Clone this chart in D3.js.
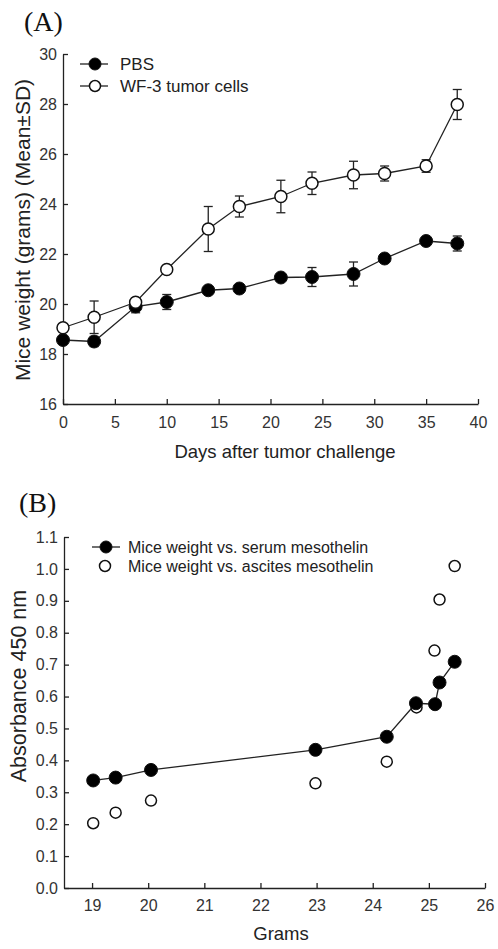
<!DOCTYPE html>
<html><head><meta charset="utf-8">
<script src="https://cdn.jsdelivr.net/npm/d3@7"></script>
<style>
body{margin:0;background:#fff;}
text{font-family:"Liberation Sans",Arial,sans-serif;fill:#222;}
text.panel{font-family:"Liberation Serif","Times New Roman",serif;fill:#111;}
</style></head>
<body><svg id="c" width="498" height="949"></svg>
<script>
// Panel A data
const days = [0,3,7,10,14,17,21,24,28,31,35,38];
const pbsMean = [18.56,18.5,19.9,20.08,20.55,20.62,21.06,21.08,21.2,21.82,22.52,22.42];
const pbsSD   = [0.15,0.2,0.25,0.3,0.1,0.15,0.1,0.38,0.48,0.15,0.1,0.3];
const wfMean  = [19.05,19.47,20.07,21.38,23.0,23.9,24.3,24.83,25.16,25.22,25.52,27.98];
const wfSD    = [0.12,0.65,0.15,0.15,0.9,0.42,0.65,0.45,0.55,0.3,0.25,0.6];
const aXTicks = [0,5,10,15,20,25,30,35,40];
const aYTicks = [16,18,20,22,24,26,28,30];
const aLegend = ["PBS","WF-3 tumor cells"];
// Panel B data
const serumGrams = [19.02,19.42,20.05,22.98,24.25,24.77,25.11,25.19,25.46];
const serumAbs   = [0.337,0.346,0.370,0.433,0.474,0.579,0.576,0.644,0.709];
const ascGrams   = [19.02,19.42,20.05,22.98,24.25,24.78,25.10,25.19,25.46];
const ascAbs     = [0.203,0.236,0.274,0.328,0.396,0.566,0.744,0.904,1.009];
const bXTicks = [19,20,21,22,23,24,25,26];
const bYTicks = [0,0.1,0.2,0.3,0.4,0.5,0.6,0.7,0.8,0.9,1.0,1.1];
const bLegend = ["Mice weight vs. serum mesothelin","Mice weight vs. ascites mesothelin"];

const svg = d3.select("#c");
const ink = "#222";

function styleAxis(g){
  g.selectAll("path").attr("stroke",ink).attr("stroke-width",1.3);
  g.selectAll("line").attr("stroke",ink).attr("stroke-width",1.3);
  g.selectAll("text").attr("font-size",16).style("fill","#333").attr("font-family",null);
}

// ---------- Panel A ----------
const xA = d3.scaleLinear().domain([0,40]).range([63,478]);
const yA = d3.scaleLinear().domain([16,30]).range([404,54]);

svg.append("text").attr("class","panel").attr("x",24).attr("y",31)
  .attr("font-size",28).text("(A)");

svg.append("g").attr("transform","translate(0,404)")
  .call(d3.axisBottom(xA).tickValues(aXTicks).tickSizeInner(-5).tickSizeOuter(0).tickPadding(13).tickFormat(d3.format("d")))
  .call(styleAxis);
svg.append("g").attr("transform","translate(63,0)")
  .call(d3.axisLeft(yA).tickValues(aYTicks).tickSizeInner(-5).tickSizeOuter(0).tickPadding(6).tickFormat(d3.format("d")))
  .call(styleAxis);

svg.append("text").attr("transform","translate(30,230) rotate(-90)").attr("text-anchor","middle")
  .attr("font-size",21).text("Mice weight (grams) (Mean\u00B1SD)");
svg.append("text").attr("x",285).attr("y",458).attr("text-anchor","middle")
  .attr("font-size",18.5).text("Days after tumor challenge");

const lineA = d3.line().x(d=>xA(d[0])).y(d=>yA(d[1]));
function drawSeriesA(means, sds, filled){
  const pts = days.map((d,i)=>[d,means[i],sds[i]]);
  svg.append("path").datum(pts).attr("d",lineA).attr("fill","none").attr("stroke",ink).attr("stroke-width",1.3);
  const g = svg.append("g");
  pts.forEach(p=>{
    const x = xA(p[0]);
    g.append("line").attr("x1",x).attr("x2",x).attr("y1",yA(p[1]-p[2])).attr("y2",yA(p[1]+p[2])).attr("stroke",ink).attr("stroke-width",1.3);
    [p[1]-p[2],p[1]+p[2]].forEach(v=>g.append("line").attr("x1",x-4.5).attr("x2",x+4.5).attr("y1",yA(v)).attr("y2",yA(v)).attr("stroke",ink).attr("stroke-width",1.3));
  });
  g.selectAll("circle").data(pts).join("circle").attr("cx",d=>xA(d[0])).attr("cy",d=>yA(d[1]))
    .attr("r",filled?6.5:6).attr("fill",filled?"#000":"#fff").attr("stroke","#111").attr("stroke-width",filled?1:1.5);
}
drawSeriesA(pbsMean,pbsSD,true);
drawSeriesA(wfMean,wfSD,false);

// Legend A
[[64,true],[86,false]].forEach((e,i)=>{
  svg.append("line").attr("x1",80).attr("x2",108).attr("y1",e[0]).attr("y2",e[0]).attr("stroke",ink).attr("stroke-width",1.3);
  svg.append("circle").attr("cx",95).attr("cy",e[0]).attr("r",e[1]?6:5.5).attr("fill",e[1]?"#000":"#fff").attr("stroke","#111").attr("stroke-width",e[1]?1:1.5);
  svg.append("text").attr("x",120).attr("y",e[0]+6).attr("font-size",17).text(aLegend[i]);
});

// ---------- Panel B ----------
const xB = d3.scaleLinear().domain([18.5,26]).range([64,485]);
const yB = d3.scaleLinear().domain([0,1.1]).range([888,537]);

svg.append("text").attr("class","panel").attr("x",19).attr("y",512)
  .attr("font-size",28).text("(B)");

svg.append("g").attr("transform","translate(0,888)")
  .call(d3.axisBottom(xB).tickValues(bXTicks).tickSizeInner(-5).tickSizeOuter(0).tickPadding(12).tickFormat(d3.format("d")))
  .call(styleAxis);
svg.append("g").attr("transform","translate(64,0)")
  .call(d3.axisLeft(yB).tickValues(bYTicks).tickSizeInner(-5).tickSizeOuter(0).tickPadding(6).tickFormat(d3.format(".1f")))
  .call(styleAxis);

svg.append("text").attr("transform","translate(26,686) rotate(-90)").attr("text-anchor","middle")
  .attr("font-size",21.5).text("Absorbance 450 nm");
svg.append("text").attr("x",281).attr("y",940).attr("text-anchor","middle")
  .attr("font-size",18.5).text("Grams");

const serumPts = serumGrams.map((g,i)=>[g,serumAbs[i]]);
const ascPts = ascGrams.map((g,i)=>[g,ascAbs[i]]);
const lineB = d3.line().x(d=>xB(d[0])).y(d=>yB(d[1]));
svg.append("path").datum(serumPts).attr("d",lineB).attr("fill","none").attr("stroke",ink).attr("stroke-width",1.3);
svg.append("g").selectAll("circle").data(ascPts).join("circle")
  .attr("cx",d=>xB(d[0])).attr("cy",d=>yB(d[1])).attr("r",5.5).attr("fill","none").attr("stroke","#111").attr("stroke-width",1.5);
svg.append("g").selectAll("circle").data(serumPts).join("circle")
  .attr("cx",d=>xB(d[0])).attr("cy",d=>yB(d[1])).attr("r",6.5).attr("fill","#000").attr("stroke","#111").attr("stroke-width",1);

// Legend B
svg.append("line").attr("x1",92).attr("x2",120).attr("y1",547).attr("y2",547).attr("stroke",ink).attr("stroke-width",1.3);
svg.append("circle").attr("cx",106).attr("cy",547).attr("r",6).attr("fill","#000").attr("stroke","#111");
svg.append("text").attr("x",128).attr("y",553).attr("font-size",16).text(bLegend[0]);
svg.append("circle").attr("cx",105).attr("cy",566).attr("r",5.5).attr("fill","#fff").attr("stroke","#111").attr("stroke-width",1.5);
svg.append("text").attr("x",128).attr("y",572).attr("font-size",16).text(bLegend[1]);
</script></body></html>
